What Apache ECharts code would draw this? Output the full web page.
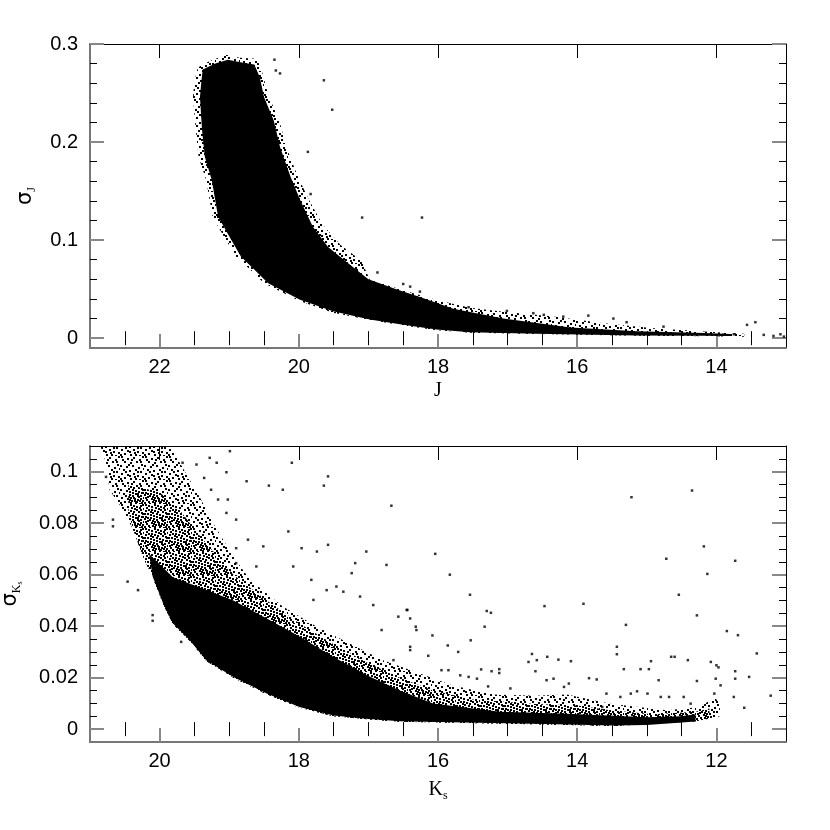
<!DOCTYPE html>
<html>
<head>
<meta charset="utf-8">
<script src="https://cdn.jsdelivr.net/npm/echarts@6.0.0/dist/echarts.min.js"></script>
<style>
  html, body { margin: 0; padding: 0; background: #fff; }
  #chart { width: 830px; height: 830px; }
</style>
</head>
<body>
<div id="chart"></div>
<script>
// ---- tick values ----
const jTicks = [14, 16, 18, 20, 22]
const jMinorTicks = [13.5, 14.5, 15, 15.5, 16.5, 17, 17.5, 18.5, 19, 19.5, 20.5, 21, 21.5, 22.5]
const sigJTicks = [0, 0.1, 0.2, 0.3]
const sigJMinorTicks = [0.02, 0.04, 0.06, 0.08, 0.12, 0.14, 0.16, 0.18, 0.22, 0.24, 0.26, 0.28]
const kTicks = [12, 14, 16, 18, 20]
const kMinorTicks = [11.5, 12.5, 13, 13.5, 14.5, 15, 15.5, 16.5, 17, 17.5, 18.5, 19, 19.5, 20.5]
const sigKTicks = [0, 0.02, 0.04, 0.06, 0.08, 0.1]
const sigKMinorTicks = [0.005, 0.01, 0.015, 0.025, 0.03, 0.035, 0.045, 0.05, 0.055, 0.065, 0.07, 0.075, 0.085, 0.09, 0.095, 0.105]

// ---- J panel: outline of the speckled tail and the solid core, [J, sigma] ----
const jHalo = [
  [21.50, 0.262], [21.45, 0.276], [21.30, 0.282], [21.05, 0.289], [20.85, 0.286], [20.60, 0.285],
  [20.52, 0.270], [20.44, 0.248], [20.28, 0.222], [20.18, 0.195], [20.02, 0.166], [19.86, 0.142],
  [19.66, 0.116], [19.40, 0.095], [19.10, 0.079], [18.98, 0.0595], [18.5, 0.049], [18.02, 0.039],
  [17.54, 0.031], [17.06, 0.027], [16.34, 0.022], [15.62, 0.0153], [14.9, 0.0102], [14.18, 0.0067],
  [13.6, 0.0045], [13.6, 0.0015], [14.18, 0.0020], [15.14, 0.0025], [16.58, 0.0042], [17.54, 0.0055],
  [18.02, 0.0082], [18.5, 0.013], [18.98, 0.0185], [19.51, 0.026], [19.99, 0.038], [20.50, 0.056],
  [20.70, 0.070], [20.90, 0.083], [21.08, 0.104], [21.24, 0.124], [21.33, 0.161], [21.44, 0.185],
  [21.48, 0.212], [21.52, 0.246]
]
const jCore = [
  [21.40, 0.262], [21.38, 0.274], [21.20, 0.280], [21.02, 0.284], [20.80, 0.281], [20.64, 0.279],
  [20.56, 0.266], [20.50, 0.246], [20.36, 0.222], [20.27, 0.195], [20.12, 0.165], [19.98, 0.141],
  [19.80, 0.114], [19.58, 0.093], [19.30, 0.077], [19.0, 0.060], [18.6, 0.050], [18.26, 0.042],
  [17.78, 0.030], [17.06, 0.020], [16.1, 0.0108], [15.14, 0.0070], [14.18, 0.0052], [13.8, 0.0044],
  [13.8, 0.0022], [14.18, 0.0024], [15.14, 0.0028], [16.58, 0.0045], [17.54, 0.006], [18.02, 0.0088],
  [18.5, 0.0138], [18.98, 0.019], [19.51, 0.0275], [19.99, 0.0395], [20.44, 0.056], [20.64, 0.070],
  [20.83, 0.083], [21.0, 0.104], [21.16, 0.124], [21.25, 0.161], [21.35, 0.185], [21.39, 0.212],
  [21.42, 0.246]
]
const jStars = [
  [20.35, 0.284], [20.33, 0.273], [20.27, 0.270], [19.64, 0.263], [19.52, 0.233], [19.87, 0.190],
  [19.83, 0.147], [19.09, 0.123], [18.87, 0.067], [18.23, 0.123], [18.26, 0.0475], [18.40, 0.0526],
  [18.5, 0.0553], [17.56, 0.0316], [17.01, 0.0278], [16.63, 0.0255], [16.48, 0.0238], [16.2, 0.022],
  [15.84, 0.023], [15.48, 0.020], [15.29, 0.0163], [14.76, 0.0118], [13.56, 0.0136], [13.44, 0.0163],
  [13.75, 0.004], [13.32, 0.0034], [13.18, 0.0023], [13.08, 0.004], [13.03, 0.0016], [13.9, 0.0035]
]

// ---- Ks panel ----
const kHaloOuter = [
  [20.80, 0.110], [19.85, 0.110], [19.71, 0.1035], [19.42, 0.090], [19.23, 0.080], [18.94, 0.067],
  [18.70, 0.058], [18.23, 0.0476], [17.74, 0.0398], [17.27, 0.0333], [16.79, 0.0268], [16.26, 0.0216],
  [15.8, 0.017], [15.2, 0.0135], [14.6, 0.013], [14.15, 0.0135], [13.53, 0.0099], [12.71, 0.0073],
  [12.23, 0.0086], [12.03, 0.0125], [11.95, 0.010], [11.95, 0.005], [12.33, 0.0030], [13.48, 0.0012],
  [14.63, 0.0019], [16.55, 0.0029], [17.03, 0.0038], [17.5, 0.0050], [17.99, 0.0083], [18.46, 0.0135],
  [18.94, 0.0200], [19.33, 0.0265], [19.57, 0.0343], [19.81, 0.0408], [19.95, 0.0486], [20.1, 0.059],
  [20.24, 0.067], [20.38, 0.0775], [20.53, 0.0853], [20.72, 0.093], [20.77, 0.1035], [20.85, 0.110]
]
const kHaloInner = [
  [20.45, 0.095], [20.0, 0.092], [19.71, 0.085], [19.42, 0.075], [18.94, 0.060], [18.46, 0.050],
  [17.99, 0.041], [17.5, 0.033], [17.03, 0.026], [16.55, 0.020], [16.07, 0.015], [15.5, 0.0115],
  [14.6, 0.0098], [14.0, 0.0092], [13.5, 0.0072], [12.9, 0.0058], [12.3, 0.0068], [12.1, 0.008],
  [12.1, 0.004], [12.33, 0.0030], [13.48, 0.0012], [14.63, 0.0019], [16.55, 0.0029], [17.03, 0.0038],
  [17.5, 0.0050], [17.99, 0.0083], [18.46, 0.0135], [18.94, 0.0200], [19.33, 0.0265], [19.57, 0.0343],
  [19.81, 0.0408], [19.95, 0.0486], [20.1, 0.059], [20.24, 0.067], [20.38, 0.0775], [20.45, 0.085]
]
const kCore = [
  [20.15, 0.068], [19.81, 0.059], [19.42, 0.055], [18.94, 0.050], [18.46, 0.043], [17.99, 0.036],
  [17.5, 0.028], [17.03, 0.021], [16.55, 0.015], [16.07, 0.010], [15.11, 0.0068], [14.15, 0.006],
  [13.48, 0.0052], [13.0, 0.0046], [12.5, 0.005], [12.3, 0.0058], [12.3, 0.0030], [13.0, 0.0016],
  [13.48, 0.0014], [14.63, 0.0021], [15.6, 0.0026], [16.55, 0.0031], [17.03, 0.004], [17.5, 0.0053],
  [17.99, 0.0086], [18.46, 0.0138], [18.94, 0.0203], [19.33, 0.0268], [19.57, 0.0346], [19.81, 0.0411],
  [19.95, 0.0489], [20.1, 0.0593]
]
const kStars = [
  [19.04, 0.0998], [18.75, 0.0963], [18.43, 0.0946], [18.10, 0.1035], [18.23, 0.093], [17.58, 0.0982],
  [17.64, 0.0946], [16.67, 0.0868], [18.15, 0.0768], [18.90, 0.0814], [18.73, 0.0736], [18.51, 0.071],
  [17.96, 0.0703], [17.74, 0.069], [17.58, 0.0716], [17.03, 0.069], [17.19, 0.0645], [16.74, 0.0638],
  [18.08, 0.0632], [17.24, 0.0606], [17.82, 0.058], [17.46, 0.0554], [17.12, 0.0515], [16.93, 0.0482],
  [17.36, 0.0534], [16.45, 0.0463], [17.6, 0.054], [16.31, 0.0385], [16.81, 0.0385], [17.79, 0.0502],
  [16.57, 0.0437], [16.4, 0.0307], [16.64, 0.0268],
  [20.67, 0.0814], [20.67, 0.0788], [20.46, 0.0573], [20.31, 0.054], [20.1, 0.0421], [20.1, 0.0443],
  [19.69, 0.0339], [20.77, 0.098],
  [19.47, 0.1028], [19.67, 0.1035], [19.28, 0.1054], [18.99, 0.108], [19.18, 0.1035], [19.26, 0.093],
  [19.36, 0.0976], [19.16, 0.0892], [19.02, 0.0892], [19.04, 0.084], [18.9, 0.0703], [18.61, 0.0632],
  [18.9, 0.0645],
  [13.22, 0.0901], [12.35, 0.0927], [16.04, 0.0681], [15.83, 0.060], [15.54, 0.0522], [14.47, 0.0478],
  [13.91, 0.0487], [12.18, 0.071], [12.72, 0.0662], [11.73, 0.0654], [12.13, 0.0603], [12.54, 0.0522],
  [12.28, 0.0442], [11.85, 0.0381], [11.69, 0.0365], [13.30, 0.0405], [15.30, 0.0459], [15.24, 0.0452],
  [15.33, 0.0398], [15.53, 0.0345], [15.86, 0.0325], [16.08, 0.0364], [16.32, 0.0398], [16.40, 0.043],
  [16.44, 0.0463], [16.40, 0.032], [16.14, 0.0285], [15.71, 0.030], [13.43, 0.032], [13.43, 0.0291],
  [14.65, 0.0292], [14.43, 0.0281], [14.27, 0.027], [14.09, 0.0264], [14.70, 0.0261], [14.58, 0.0268],
  [14.60, 0.0225], [13.33, 0.0233], [13.09, 0.0233], [12.97, 0.0233], [12.94, 0.0264], [12.65, 0.0281],
  [12.60, 0.0281], [12.41, 0.0268], [12.08, 0.0261], [11.97, 0.024], [11.73, 0.0225], [11.73, 0.0196],
  [11.53, 0.0203], [11.42, 0.0294], [11.22, 0.013], [11.60, 0.0083], [12.83, 0.019], [12.28, 0.0187],
  [12.01, 0.0196], [11.94, 0.017], [12.00, 0.0248], [11.75, 0.0125], [12.03, 0.0138],
  [15.95, 0.0229], [15.85, 0.0229], [15.68, 0.0209], [15.56, 0.0203], [15.44, 0.0196], [15.38, 0.0232],
  [15.23, 0.0225], [15.12, 0.0233], [15.12, 0.0218], [15.28, 0.0166], [14.96, 0.0158], [14.44, 0.019],
  [14.34, 0.0196], [14.12, 0.0177], [14.19, 0.0164], [13.83, 0.0198], [13.72, 0.0193], [13.58, 0.0138],
  [13.38, 0.0125], [13.23, 0.0138], [13.14, 0.0147], [12.99, 0.0138], [12.80, 0.0125], [12.68, 0.0125],
  [12.47, 0.0125], [12.37, 0.0099], [13.64, 0.0086]
]

// stipple tiles used to fill the speckled parts of the clouds
function stipple(dots) {
  const c = document.createElement("canvas")
  c.width = 24
  c.height = 24
  const ctx = c.getContext("2d")
  ctx.fillStyle = "#000"
  dots.forEach(([x, y]) => ctx.fillRect(x, y, 2, 2))
  return { image: c, repeat: "repeat" }
}
const sparseDots = [
  [1, 0], [7, 2], [13, 1], [19, 3], [22, 0], [4, 5], [10, 6], [16, 5], [21, 8], [0, 9], [6, 10], [12, 9],
  [18, 11], [3, 13], [9, 14], [15, 13], [20, 15], [1, 17], [7, 18], [13, 17], [17, 19], [22, 20], [4, 21],
  [10, 22], [15, 22], [19, 23], [11, 3], [2, 3], [17, 15], [8, 8], [23, 12], [5, 15], [14, 20], [20, 5], [9, 19], [0, 22]
]
const denseDots = sparseDots.concat([
  [4, 1], [10, 0], [16, 2], [20, 1], [1, 6], [7, 5], [13, 7], [18, 7], [23, 4], [3, 9], [9, 11], [15, 10],
  [21, 12], [0, 14], [6, 13], [12, 15], [18, 16], [2, 19], [8, 16], [14, 18], [20, 18], [23, 17], [5, 23],
  [11, 20], [16, 21], [21, 22], [3, 16], [12, 12], [17, 13], [8, 21], [22, 9], [6, 7], [19, 20], [14, 4], [1, 12], [10, 17]
])
const sparseFill = stipple(sparseDots)
const denseFill = stipple(denseDots)

const labelFont = { color: "#000", fontSize: 20, fontFamily: "Liberation Sans" }
const nameFont = { color: "#000", fontSize: 20, fontFamily: "Liberation Serif" }

function xAxes(grid, min, max, major, minor, name, nameGap) {
  const base = { type: "value", gridIndex: grid, min: min, max: max, inverse: true, splitLine: { show: false } }
  return [
    Object.assign({}, base, {
      position: "bottom", name: name, nameLocation: "middle", nameGap: nameGap,
      nameTextStyle: Object.assign({}, nameFont, { rich: { s: { fontSize: 12, fontFamily: "Liberation Serif", padding: [12, 0, 0, 0] } } }),
      axisLine: { onZero: false, lineStyle: { color: "#777", width: 2 } },
      axisTick: { inside: true, length: 14, customValues: major, lineStyle: { color: "#888", width: 2 } },
      axisLabel: Object.assign({ customValues: major, margin: 9 }, labelFont),
    }),
    Object.assign({}, base, {
      position: "bottom", axisLine: { show: false },
      axisTick: { inside: true, length: 7, customValues: minor, lineStyle: { color: "#000", width: 1 } },
      axisLabel: { show: false },
    }),
    Object.assign({}, base, {
      position: "top", axisLine: { onZero: false, lineStyle: { color: "#000", width: 1 } },
      axisTick: { inside: true, length: 14, customValues: major, lineStyle: { color: "#000", width: 1 } },
      axisLabel: { show: false },
    }),
    Object.assign({}, base, {
      position: "top", axisLine: { show: false },
      axisTick: { inside: true, length: 7, customValues: minor, lineStyle: { color: "#000", width: 1 } },
      axisLabel: { show: false },
    }),
  ]
}

function yAxes(grid, min, max, major, minor, name, nameGap) {
  const base = { type: "value", gridIndex: grid, min: min, max: max, splitLine: { show: false } }
  return [
    Object.assign({}, base, {
      position: "left", name: name, nameLocation: "middle", nameGap: nameGap,
      nameTextStyle: Object.assign({}, nameFont, {
        rich: {
          g: { fontSize: 21, fontFamily: "DejaVu Sans" },
          b: { fontSize: 12, fontFamily: "Liberation Serif", padding: [12, 0, 0, 0] },
          c: { fontSize: 8, fontFamily: "Liberation Serif", padding: [18, 0, 0, 0] },
        },
      }),
      axisLine: { onZero: false, lineStyle: { color: "#777", width: 2 } },
      axisTick: { inside: true, length: 14, customValues: major, lineStyle: { color: "#888", width: 2 } },
      axisLabel: Object.assign({ customValues: major, margin: 12, formatter: (v) => String(v) }, labelFont),
    }),
    Object.assign({}, base, {
      position: "left", axisLine: { show: false },
      axisTick: { inside: true, length: 7, customValues: minor, lineStyle: { color: "#000", width: 1 } },
      axisLabel: { show: false },
    }),
    Object.assign({}, base, {
      position: "right", axisLine: { onZero: false, lineStyle: { color: "#000", width: 1 } },
      axisTick: { inside: true, length: 14, customValues: major, lineStyle: { color: "#888", width: 2 } },
      axisLabel: { show: false },
    }),
    Object.assign({}, base, {
      position: "right", axisLine: { show: false },
      axisTick: { inside: true, length: 7, customValues: minor, lineStyle: { color: "#000", width: 1 } },
      axisLabel: { show: false },
    }),
  ]
}

function cloud(axis, outline, fill) {
  return {
    type: "custom",
    xAxisIndex: axis,
    yAxisIndex: axis,
    silent: true,
    data: [0],
    renderItem: (params, api) => ({
      type: "polygon",
      shape: { points: outline.map((p) => api.coord(p)) },
      style: { fill: fill, stroke: null },
    }),
  }
}

function stars(axis, pts) {
  return {
    type: "scatter",
    xAxisIndex: axis,
    yAxisIndex: axis,
    symbol: "rect",
    symbolSize: 2.5,
    silent: true,
    itemStyle: { color: "#000" },
    data: pts,
  }
}

const myChart = echarts.init(document.getElementById("chart"), null, { renderer: "canvas" })
myChart.setOption({
  animation: false,
  backgroundColor: "#fff",
  grid: [
    { left: 90, right: 44, top: 44, height: 304, outerBoundsMode: "none" },
    { left: 90, right: 44, top: 446, height: 296, outerBoundsMode: "none" },
  ],
  xAxis: xAxes(0, 13, 23, jTicks, jMinorTicks, "J", 33).concat(xAxes(1, 11, 21, kTicks, kMinorTicks, "K{s|s}", 36)),
  yAxis: yAxes(0, -0.01, 0.3, sigJTicks, sigJMinorTicks, "{g|σ}{b|J}", 52).concat(yAxes(1, -0.005, 0.11, sigKTicks, sigKMinorTicks, "{g|σ}{b|K}{c|s}", 66)),
  series: [
    cloud(0, jHalo, sparseFill),
    cloud(0, jCore, "#000"),
    stars(0, jStars),
    cloud(4, kHaloOuter, sparseFill),
    cloud(4, kHaloInner, denseFill),
    cloud(4, kCore, "#000"),
    stars(4, kStars),
  ],
})

window.addEventListener("resize", () => {
  myChart.resize()
})
</script>
</body>
</html>
